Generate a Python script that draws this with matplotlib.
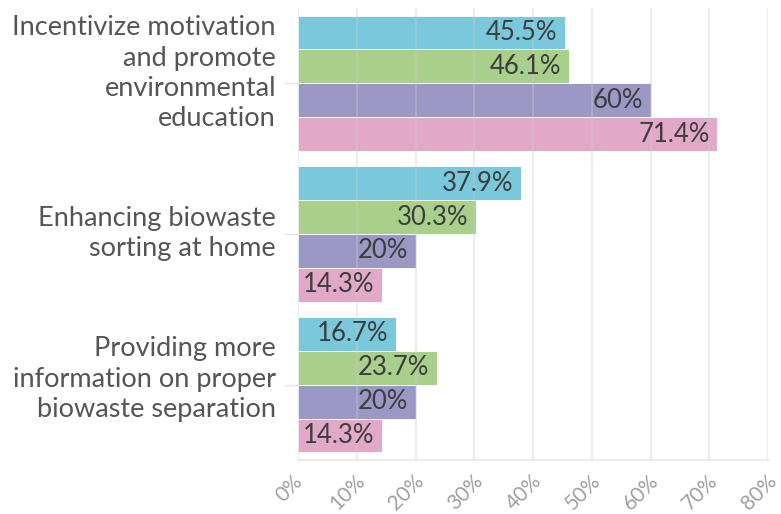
import matplotlib
matplotlib.use("Agg")
import matplotlib.pyplot as plt
import numpy as np

categories = ["Incentivize motivation\nand promote\nenvironmental\neducation",
              "Enhancing biowaste\nsorting at home",
              "Providing more\ninformation on proper\nbiowaste separation"]
s1 = [45.5, 37.9, 16.7]
s2 = [46.1, 30.3, 23.7]
s3 = [60, 20, 20]
s4 = [71.4, 14.3, 14.3]
labels1 = ["45.5%", "37.9%", "16.7%"]
labels2 = ["46.1%", "30.3%", "23.7%"]
labels3 = ["60%", "20%", "20%"]
labels4 = ["71.4%", "14.3%", "14.3%"]
xticks = [0, 10, 20, 30, 40, 50, 60, 70, 80]
xtick_labels = ["0%", "10%", "20%", "30%", "40%", "50%", "60%", "70%", "80%"]

colors = ["#7ac8dc", "#a9d08a", "#9c98c6", "#e2a8c8"]

plt.rcParams['font.family'] = ['Lato', 'DejaVu Sans']

DPI = 100
fig = plt.figure(figsize=(7.81, 5.14), dpi=DPI)
ax = fig.add_axes([298/781, 1-460/514, 470/781, 452/514])

values = [s1, s2, s3, s4]
labs = [labels1, labels2, labels3, labels4]
n = len(categories)
y = np.arange(n)
bh = 0.225
for i, (vals, lb) in enumerate(zip(values, labs)):
    pos = y - 1.5*bh + i*bh
    ax.barh(pos, vals, height=bh, color=colors[i], edgecolor="white",
            linewidth=0.6, zorder=2)
    for p, v, t in zip(pos, vals, lb):
        ax.text(v - 1.3, p, t, ha="right", va="center", fontsize=18.5,
                color="#3d3d3d", zorder=4)

ax.set_ylim(2.5, -0.5)
ax.set_xlim(0, 80)
ax.set_yticks(y)
ax.set_yticklabels([])
px = 72 / DPI  # points per pixel
for yi, cat in zip(y, categories):
    nl = cat.count("\n") + 1
    down = 22 + (nl - 2) * 10.5
    ax.annotate(cat, xy=(0, yi), xycoords=("axes fraction", "data"),
                xytext=(-22 * px, -down * px), textcoords="offset points",
                ha="right", va="baseline", multialignment="right",
                fontsize=19.5, color="#555555", linespacing=1.27,
                annotation_clip=False)

ax.set_xticks(xticks)
ax.set_xticklabels([])
for xt, tl in zip(xticks, xtick_labels):
    ax.annotate(tl, xy=(xt, 0), xycoords=("data", "axes fraction"),
                xytext=(-9 * px, -11 * px), textcoords="offset points",
                ha="center", va="top", rotation=45,
                fontsize=15, color="#a0a0a0", annotation_clip=False)

ax.tick_params(axis="x", length=0, pad=6)
ax.tick_params(axis="y", length=10, color="#e6e6e6", width=1, pad=6)
for s in ["top", "right", "left"]:
    ax.spines[s].set_visible(False)
ax.spines["bottom"].set_color("#ebebeb")
ax.spines["bottom"].set_linewidth(1.5)
ax.grid(axis="x", color="#cccccc", alpha=0.35, linewidth=1.5, zorder=3)
ax.set_axisbelow(False)
for line in ax.get_xgridlines():
    line.set_zorder(3)

fig.savefig("out.png", dpi=DPI, facecolor="white")
